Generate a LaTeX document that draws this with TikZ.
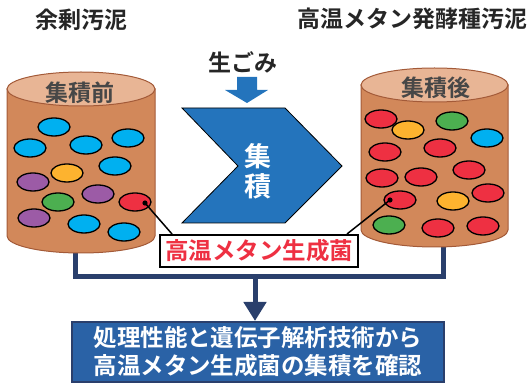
\documentclass[tikz,border=0pt]{standalone}
\usepackage{fontspec}
\newfontfamily\jp{Noto Sans CJK JP}[BoldFont={Noto Sans CJK JP Bold}]
\usetikzlibrary{shapes.geometric,arrows.meta,calc}

\definecolor{body}{HTML}{D2885A}
\definecolor{lid}{HTML}{E8B595}
\definecolor{rim}{HTML}{A35A38}
\definecolor{cyanb}{HTML}{00B0F0}
\definecolor{yelb}{HTML}{FDB32F}
\definecolor{purb}{HTML}{9C5BA6}
\definecolor{grnb}{HTML}{4CAF50}
\definecolor{redb}{HTML}{EE3042}
\definecolor{chev}{HTML}{2474BC}
\definecolor{navy}{HTML}{2A3F6C}
\definecolor{panel}{HTML}{2A62A6}
\definecolor{ink}{HTML}{262626}
\definecolor{alert}{HTML}{EE3042}

\tikzset{
  ball/.style={ellipse,draw=black,line width=1.3pt,minimum width=32pt,minimum height=18pt,inner sep=0pt},
  title/.style={font=\jp\bfseries\fontsize{23}{27}\selectfont,text=ink,inner sep=0pt},
  cyllabel/.style={font=\jp\bfseries\fontsize{23}{27}\selectfont,text=ink!85,inner sep=0pt},
  tag/.style={draw=black,fill=white,line width=2pt,minimum width=198pt,minimum height=32pt,inner sep=0pt,
    font=\jp\bfseries\fontsize{23.5}{27}\selectfont,text=alert},
  result/.style={draw=navy,fill=panel,line width=2pt,minimum width=372pt,minimum height=60pt,inner sep=0pt,
    align=center,font=\jp\bfseries\fontsize{23.5}{28}\selectfont,text=white},
  bus/.style={navy,line width=5pt},
  pointer/.style={black,line width=1.5pt},
}

\begin{document}
\begin{tikzpicture}[x=1pt,y=-1pt]
\useasboundingbox (0,0) rectangle (531,385);

% connecting bus under the two tanks
\draw[bus] (75,240) -- (75,277) -- (443,277) -- (443,240);

% left tank
\path[fill=body,draw=rim,line width=1pt] (7,89) -- (7,236)
  arc[start angle=180,end angle=0,x radius=74,y radius=17] -- (155,89) -- cycle;
\path[fill=lid,draw=rim,line width=1pt] (81,89) ellipse [x radius=74,y radius=17];

% right tank
\path[fill=body,draw=rim,line width=1pt] (361,85) -- (361,230)
  arc[start angle=180,end angle=0,x radius=73.5,y radius=17] -- (508,85) -- cycle;
\path[fill=lid,draw=rim,line width=1pt] (434.5,85) ellipse [x radius=73.5,y radius=17];

% headings
\node[title] (t1) at (81,20) {余剰汚泥};
\node[title] (t2) at (412,19) {高温メタン発酵種汚泥};
\node[cyllabel] (c1) at (80,93) {集積前};
\node[cyllabel] (c2) at (436,88) {集積後};

% organisms before enrichment
\node[ball,fill=cyanb] (a1) at (54,127) {};
\node[ball,fill=cyanb] (a2) at (30,148) {};
\node[ball,fill=cyanb] (a3) at (86,145) {};
\node[ball,fill=cyanb] (a4) at (128,138) {};
\node[ball,fill=cyanb] (a5) at (115,166) {};
\node[ball,fill=yelb] (a6) at (67,173) {};
\node[ball,fill=purb] (a7) at (33,182) {};
\node[ball,fill=grnb] (a8) at (58,202) {};
\node[ball,fill=purb] (a9) at (98,194) {};
\node[ball,fill=redb] (a10) at (135,202) {};
\node[ball,fill=purb] (a11) at (34,218) {};
\node[ball,fill=cyanb] (a12) at (84,224) {};
\node[ball,fill=cyanb] (a13) at (124,232) {};

% organisms after enrichment
\node[ball,fill=redb] (b1) at (381,119) {};
\node[ball,fill=grnb] (b2) at (452,121) {};
\node[ball,fill=yelb] (b3) at (408,130) {};
\node[ball,fill=cyanb] (b4) at (487,138) {};
\node[ball,fill=redb] (b5) at (385,152) {};
\node[ball,fill=redb] (b6) at (440,148) {};
\node[ball,fill=redb] (b7) at (469,170) {};
\node[ball,fill=redb] (b8) at (382,178) {};
\node[ball,fill=redb] (b9) at (421,177) {};
\node[ball,fill=redb] (b10) at (488,193) {};
\node[ball,fill=redb] (b11) at (400,200) {};
\node[ball,fill=yelb] (b12) at (453,201) {};
\node[ball,fill=grnb] (b13) at (389,225) {};
\node[ball,fill=redb] (b14) at (438,228) {};
\node[ball,fill=redb] (b15) at (483,226) {};

% feed arrow and label
\node[title] (feed) at (243,62) {生ごみ};
\fill[chev] (237,77) -- (257,77) -- (257,90) -- (268,90) -- (247,103) -- (225,90) -- (237,90) -- cycle;

% enrichment chevron
\path[fill=chev,draw=black,line width=0.8pt] (182,108) -- (285,108) -- (342,166) -- (285,223)
  -- (182,223) -- (238,166) -- cycle;
\node[font=\jp\bfseries\fontsize{27}{32}\selectfont,text=white,align=center,inner sep=0pt] (enr) at (258,171)
  {集\\[-2pt]積};

% species tag with pointers
\node[tag] (tag) at (259,251) {高温メタン生成菌};
\coordinate (tagL) at ($(tag.north west)+(13,0)$);
\coordinate (tagR) at ($(tag.north east)+(-12,0)$);
\coordinate (dotL) at (145,203);
\coordinate (dotR) at (390,200);
\draw[pointer] (dotL) -- (tagL);
\draw[pointer] (dotR) -- (tagR);
\fill (dotL) circle (2.6);
\fill (dotR) circle (2.6);

% result panel
\node[result] (res) at (258,352) {処理性能と遺伝子解析技術から\\高温メタン生成菌の集積を確認};
\coordinate (busmid) at (255,277);
\draw[bus,-{Triangle[width=22pt,length=19pt]}] (busmid) -- (busmid |- res.north);
\end{tikzpicture}
\end{document}
